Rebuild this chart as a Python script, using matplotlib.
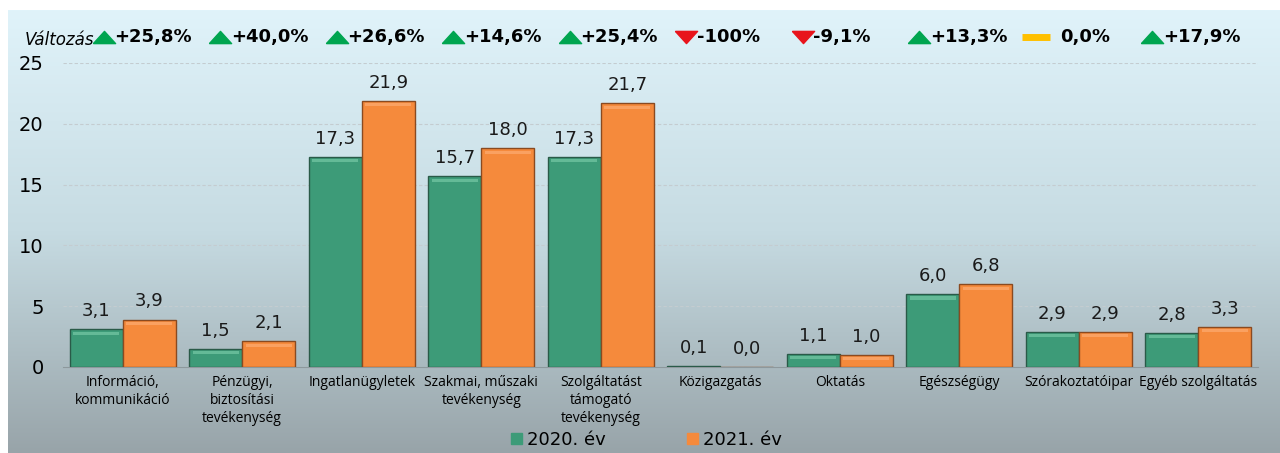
import numpy as np
from matplotlib import pyplot as plt
from matplotlib.patches import Rectangle
from matplotlib.colors import LinearSegmentedColormap

# --- data ---
categories = ['Információ,\nkommunikáció', 'Pénzügyi,\nbiztosítási\ntevékenység',
              'Ingatlanügyletek', 'Szakmai, műszaki\ntevékenység',
              'Szolgáltatást\ntámogató\ntevékenység', 'Közigazgatás', 'Oktatás',
              'Egészségügy', 'Szórakoztatóipar', 'Egyéb szolgáltatás']
v2020 = [3.1, 1.5, 17.3, 15.7, 17.3, 0.1, 1.1, 6.0, 2.9, 2.8]
v2021 = [3.9, 2.1, 21.9, 18.0, 21.7, 0.0, 1.0, 6.8, 2.9, 3.3]
changes = ['+25,8%', '+40,0%', '+26,6%', '+14,6%', '+25,4%', '-100%', '-9,1%',
           '+13,3%', '0,0%', '+17,9%']
directions = ['up', 'up', 'up', 'up', 'up', 'down', 'down', 'up', 'flat', 'up']

c_green = '#3d9b78'
c_orange = '#f58a3c'

# lapos háromszög markerek
tri_up = [(-1, -0.55), (1, -0.55), (0, 0.55), (-1, -0.55)]
tri_down = [(-1, 0.55), (1, 0.55), (0, -0.55), (-1, 0.55)]

fig = plt.figure(figsize=(12.8, 4.53), dpi=100)

# háttér gradiens
bg = fig.add_axes([8 / 1280, 0, 1 - 8 / 1280, 1 - 10 / 453])
cmap = LinearSegmentedColormap.from_list('bg', ['#e0f3fa', '#c6dbe2', '#98a4a9'])
bg.imshow(np.linspace(0, 1, 256).reshape(-1, 1), aspect='auto', cmap=cmap,
          extent=[0, 1, 0, 1])
bg.set_axis_off()

ax = fig.add_axes([63 / 1280, 1 - 367 / 453, 1195 / 1280, 304 / 453])
ax.patch.set_alpha(0)

x = np.arange(len(categories))
w = 0.445
ax.bar(x - w / 2, v2020, w, color=c_green, edgecolor='#2a5a48', lw=1.0, zorder=3)
ax.bar(x + w / 2, v2021, w, color=c_orange, edgecolor='#8a4a20', lw=1.0, zorder=3)
# világos él a tetején (domború hatás)
for xi, v in zip(x, v2020):
    if v >= 0.5:
        ax.add_patch(Rectangle((xi - w + 0.03, v - 0.45), w - 0.06, 0.25,
                               color='#7fd0ad', alpha=0.6, lw=0, zorder=4))
for xi, v in zip(x, v2021):
    if v >= 0.5:
        ax.add_patch(Rectangle((xi + 0.03, v - 0.45), w - 0.06, 0.25,
                               color='#ffb27a', alpha=0.6, lw=0, zorder=4))

for xi, v in zip(x, v2020):
    ax.text(xi - w / 2, v + 0.75, f'{v:.1f}'.replace('.', ','), ha='center',
            va='bottom', fontsize=13, color='#1a1a1a')
for xi, v in zip(x, v2021):
    ax.text(xi + w / 2, v + 0.75, f'{v:.1f}'.replace('.', ','), ha='center',
            va='bottom', fontsize=13, color='#1a1a1a')

ax.set_xlim(-0.5, len(categories) - 0.5)
ax.set_ylim(0, 25)
ax.set_yticks([0, 5, 10, 15, 20, 25])
ax.set_xticks(x)
ax.set_xticklabels(categories, fontsize=10, family='Open Sans', linespacing=1.25)
ax.tick_params(axis='x', length=0, pad=6)
ax.tick_params(axis='y', length=0, labelsize=14, pad=14)
for s in ['top', 'right', 'left']:
    ax.spines[s].set_visible(False)
ax.spines['bottom'].set_color('#8d989c')
ax.grid(axis='y', ls=(0, (3, 2)), color='#c4ccd0', lw=0.8, zorder=0)
ax.set_axisbelow(True)

# változás sor
fig.text(25 / 1280, 1 - 40 / 453, 'Változás', style='italic', fontsize=12,
         va='center', ha='left')
for i, (c, d) in enumerate(zip(changes, directions)):
    mx = i - 0.16 - 0.025 * i
    if d == 'up':
        ax.plot(mx, 27.1, marker=tri_up, ms=16, color='#00a550', clip_on=False)
    elif d == 'down':
        ax.plot(mx, 27.1, marker=tri_down, ms=16, color='#e8141c', clip_on=False)
    else:
        ax.plot(mx, 27.1, marker='_', ms=20, mew=5, color='#ffc000', clip_on=False)
    ax.text(mx + (0.09 if d != 'flat' else 0.2), 27.1, c, fontsize=13,
            fontweight='bold', va='center', ha='left', clip_on=False)

# jelmagyarázat
h1 = Rectangle((0, 0), 1, 1, color=c_green)
h2 = Rectangle((0, 0), 1, 1, color=c_orange)
fig.legend([h1, h2], ['2020. év', '2021. év'], loc='center',
           bbox_to_anchor=(0.505, 1 - 440 / 453), ncol=2, frameon=False,
           fontsize=13, handlelength=0.6, handleheight=0.6, handletextpad=0.3,
           columnspacing=4.5)

fig.savefig('out.png', dpi=100)
